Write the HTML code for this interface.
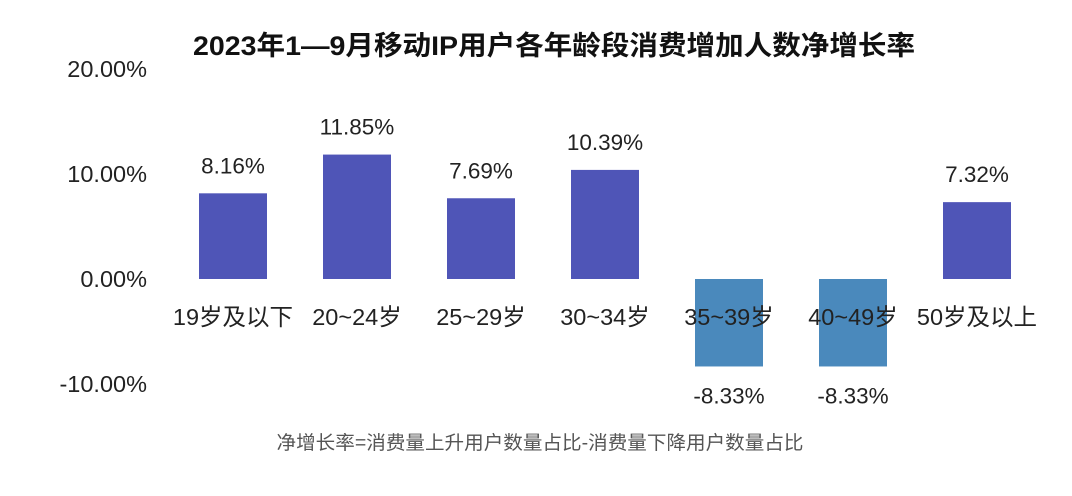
<!DOCTYPE html>
<html><head><meta charset="utf-8"><style>
html,body{margin:0;padding:0;background:#fff;width:1072px;height:496px;overflow:hidden}
svg text{font-family:"Liberation Sans","Noto Sans CJK SC",sans-serif}
</style></head><body>
<svg id="chart" width="1072" height="496" viewBox="0 0 1072 496">
<text x="554" y="55" text-anchor="middle" font-size="27" font-weight="bold" fill="#111" textLength="722" lengthAdjust="spacingAndGlyphs">2023年1—9月移动IP用户各年龄段消费增加人数净增长率</text>
<g id="yaxis"></g>
<g id="bars"></g>
<text x="540" y="449" text-anchor="middle" font-size="19" fill="#555" textLength="527" lengthAdjust="spacingAndGlyphs">净增长率=消费量上升用户数量占比-消费量下降用户数量占比</text>
</svg>
<script>
const categories = ["19岁及以下","20~24岁","25~29岁","30~34岁","35~39岁","40~49岁","50岁及以上"];
const values = [8.16, 11.85, 7.69, 10.39, -8.33, -8.33, 7.32];
const valueLabels = ["8.16%","11.85%","7.69%","10.39%","-8.33%","-8.33%","7.32%"];
const ticks = [20, 10, 0, -10];
const tickLabels = ["20.00%","10.00%","0.00%","-10.00%"];
const NS = "http://www.w3.org/2000/svg";
const y = v => 279 - v * 10.5;
const x = i => 233 + i * 124;
const bw = 68;
function mk(tag, attrs, parent, txt){const e=document.createElementNS(NS,tag);for(const k in attrs)e.setAttribute(k,attrs[k]);if(txt!==undefined)e.textContent=txt;parent.appendChild(e);return e;}
const ya = document.getElementById('yaxis');
ticks.forEach((t,i)=>{
  const e = mk('text',{x:147,y:y(t)+8,'text-anchor':'end','font-size':23.5,fill:'#222'},ya,tickLabels[i]);
  
  
});
const bg = document.getElementById('bars');
values.forEach((v,i)=>{
  const top = v>=0 ? y(v) : y(0);
  const h = Math.abs(y(v)-y(0));
  const r = mk('rect',{x:x(i)-bw/2,y:top,width:bw,height:h,fill:v>=0?'#4F55B7':'#4A89BC'},bg);
  
  
  const ly = v>=0 ? y(v)-20 : y(v)+37;
  const l = mk('text',{x:x(i),y:ly,'text-anchor':'middle','font-size':22.5,fill:'#222'},bg,valueLabels[i]);
  
  
});
categories.forEach((c,i)=>{
  const t = mk('text',{x:x(i),y:325,'text-anchor':'middle','font-size':23.5,fill:'#222'},bg,c);
  
  
});
</script>
</body></html>
